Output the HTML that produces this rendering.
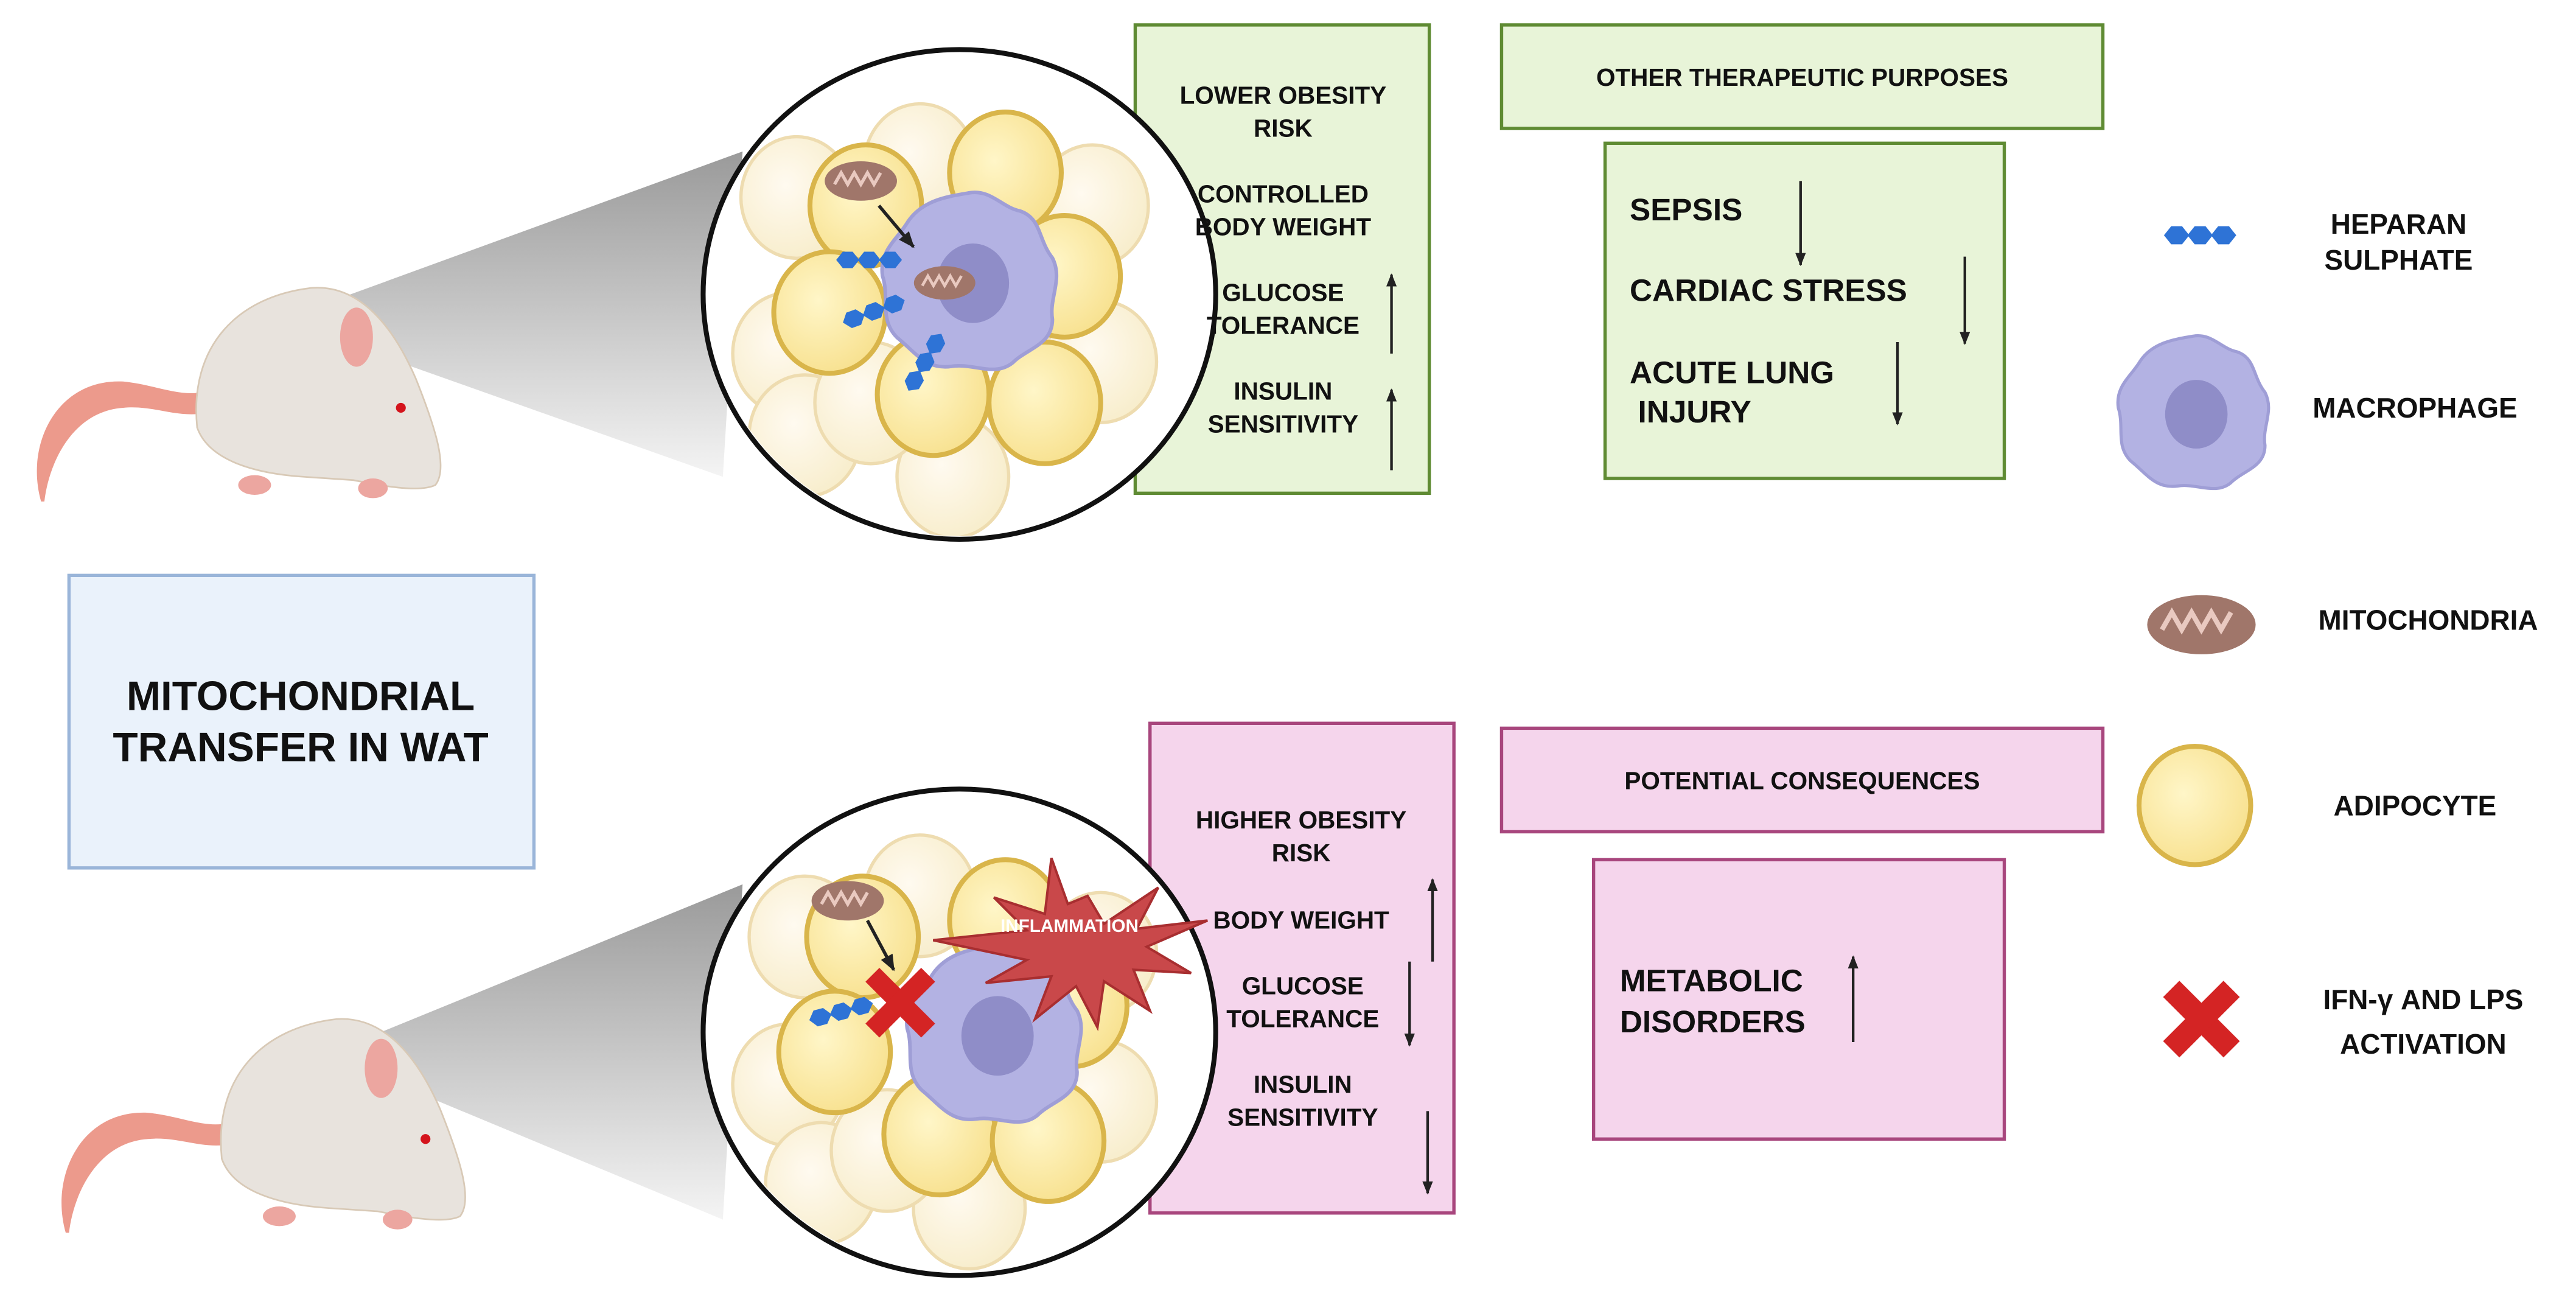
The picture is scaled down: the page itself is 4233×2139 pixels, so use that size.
<!DOCTYPE html>
<html><head><meta charset="utf-8"><style>
html,body{margin:0;padding:0;background:#fff}
svg{display:block}
text{font-family:"Liberation Sans",sans-serif;font-weight:bold;fill:#111}
</style></head><body>
<svg width="4233" height="2139" viewBox="0 0 1568 792" xmlns="http://www.w3.org/2000/svg">
<defs>
<linearGradient id="cone" x1="0" y1="0" x2="0" y2="1">
<stop offset="0" stop-color="#9a9a9a"/><stop offset="1" stop-color="#f4f4f4"/></linearGradient>
<radialGradient id="adi" cx="0.4" cy="0.4" r="0.7"><stop offset="0" stop-color="#fff6c8"/><stop offset="1" stop-color="#f7df8a"/></radialGradient>
<radialGradient id="adiL" cx="0.4" cy="0.4" r="0.7"><stop offset="0" stop-color="#fffaf0"/><stop offset="1" stop-color="#f7ecc8"/></radialGradient>
<clipPath id="c1"><ellipse cx="584" cy="179" rx="154" ry="147"/></clipPath>
<clipPath id="c2"><ellipse cx="584" cy="628" rx="154" ry="146"/></clipPath>
<g id="mouse">
<path d="M10,135 C0,100 20,60 60,62 C80,64 95,72 110,68 L115,80 C95,86 80,76 60,78 C30,80 15,110 12,135 Z" fill="#ec9a8c"/>
<path d="M105,90 C100,40 130,10 175,5 C205,3 225,30 238,60 C250,90 258,115 250,125 C240,130 215,125 200,122 L170,120 C140,118 112,110 105,90 Z" fill="#e8e3dd" stroke="#d8c9b6" stroke-width="1"/>
<ellipse cx="202" cy="35" rx="10" ry="18" fill="#eca6a0"/>
<circle cx="229" cy="78" r="3" fill="#d4141c"/>
<ellipse cx="140" cy="125" rx="10" ry="6" fill="#eca6a0"/>
<ellipse cx="212" cy="127" rx="9" ry="6" fill="#eca6a0"/>
</g>
<g id="adip"><ellipse rx="34" ry="37" fill="url(#adi)" stroke="#d9b54a" stroke-width="3"/></g>
<g id="adipL"><ellipse rx="34" ry="37" fill="url(#adiL)" stroke="#eedcb0" stroke-width="2"/></g>
<g id="mito"><ellipse rx="22" ry="12" fill="#a0766a"/><path d="M-16,2 l4,-7 l4,7 l4,-7 l4,7 l4,-7 l4,7 l4,-7" stroke="#e9c9c0" stroke-width="2" fill="none"/></g>
<g id="hep"><polygon points="-18,0 -14,-5 -8,-5 -4,0 -8,5 -14,5" fill="#2e73d6"/><polygon points="-5,0 -1,-5 5,-5 9,0 5,5 -1,5" fill="#2e73d6"/><polygon points="8,0 12,-5 18,-5 22,0 18,5 12,5" fill="#2e73d6"/></g>
<g id="macro"><path d="M0,-48 C12,-50 18,-40 28,-38 C40,-34 38,-22 46,-12 C52,0 44,10 46,22 C46,36 32,38 24,46 C14,54 2,46 -10,48 C-24,50 -30,40 -40,32 C-50,22 -44,10 -48,-2 C-50,-16 -40,-22 -34,-32 C-26,-44 -12,-46 0,-48 Z" fill="#b3b2e3" stroke="#9f9ed6" stroke-width="2"/><ellipse cx="2" cy="2" rx="20" ry="22" fill="#8f8dc8"/></g>
<marker id="ah" viewBox="0 0 10 10" refX="9" refY="5" markerWidth="5" markerHeight="5" orient="auto-start-reverse"><path d="M0,1 L10,5 L0,9 Z" fill="#222"/></marker>
</defs>

<!-- green boxes -->
<g fill="#e8f4d8" stroke="#5f8b33" stroke-width="2">
<rect x="691" y="15" width="179" height="285"/>
<rect x="914" y="15" width="366" height="63"/>
<rect x="977" y="87" width="243" height="204"/>
</g>
<!-- pink boxes -->
<g fill="#f5d5ec" stroke="#a8467d" stroke-width="2">
<rect x="700" y="440" width="185" height="298"/>
<rect x="914" y="443" width="366" height="63"/>
<rect x="970" y="523" width="250" height="170"/>
</g>

<!-- cones -->
<polygon points="205,182 452,92 440,290 248,222" fill="url(#cone)"/>
<polygon points="222,632 452,538 440,742 262,668" fill="url(#cone)"/>

<!-- mice -->
<use href="#mouse" transform="translate(15,170)"/>
<use href="#mouse" transform="translate(30,615)"/>

<!-- top circle -->
<ellipse cx="584" cy="179" rx="156" ry="149" fill="#fff" stroke="#111" stroke-width="3"/>
<g clip-path="url(#c1)">
<use href="#adipL" x="485" y="120"/><use href="#adipL" x="560" y="100"/><use href="#adipL" x="665" y="125"/><use href="#adipL" x="480" y="215"/><use href="#adipL" x="670" y="220"/><use href="#adipL" x="490" y="265"/><use href="#adipL" x="580" y="290"/><use href="#adipL" x="530" y="245"/>
<use href="#adip" x="527" y="125"/><use href="#adip" x="612" y="105"/><use href="#adip" x="505" y="190"/><use href="#adip" x="648" y="168"/><use href="#adip" x="568" y="240"/><use href="#adip" x="636" y="245"/>
<use href="#macro" transform="translate(590,170) scale(1.1)"/>
<use href="#mito" x="524" y="110"/><use href="#mito" transform="translate(575,172) scale(0.85)"/>
<use href="#hep" transform="translate(527,158)"/><use href="#hep" transform="translate(530,190) rotate(-20)"/><use href="#hep" transform="translate(562,222) rotate(-60)"/>
<line x1="535" y1="125" x2="556" y2="150" stroke="#222" stroke-width="2" marker-end="url(#ah)"/>
</g>

<!-- bottom circle -->
<ellipse cx="584" cy="628" rx="156" ry="148" fill="#fff" stroke="#111" stroke-width="3"/>
<g clip-path="url(#c2)">
<use href="#adipL" x="490" y="570"/><use href="#adipL" x="560" y="545"/><use href="#adipL" x="670" y="580"/><use href="#adipL" x="480" y="660"/><use href="#adipL" x="670" y="670"/><use href="#adipL" x="500" y="720"/><use href="#adipL" x="590" y="735"/><use href="#adipL" x="540" y="700"/>
<use href="#adip" x="525" y="570"/><use href="#adip" x="612" y="560"/><use href="#adip" x="508" y="640"/><use href="#adip" x="652" y="612"/><use href="#adip" x="572" y="690"/><use href="#adip" x="638" y="694"/>
<use href="#macro" transform="translate(605,628) scale(1.1)"/>
<use href="#mito" x="516" y="548"/>
<use href="#hep" transform="translate(510,616) rotate(-15)"/>
<line x1="528" y1="560" x2="544" y2="590" stroke="#222" stroke-width="2" marker-end="url(#ah)"/>
<g transform="translate(548,610)"><rect x="-24" y="-6" width="48" height="12" fill="#d42424" transform="rotate(45)"/><rect x="-24" y="-6" width="48" height="12" fill="#d42424" transform="rotate(-45)"/></g>
</g>
<polygon points="662,545 672,562 705,540 692,565 735,560 698,576 725,592 690,590 700,615 672,597 668,625 655,600 630,620 640,594 600,598 625,584 568,572 625,566 605,546 636,556 640,522 650,550" fill="#c9484a" stroke="#a82e30" stroke-width="1.5"/>
<text x="651" y="567" font-size="11" text-anchor="middle" style="fill:#fff">INFLAMMATION</text>

<!-- blue box -->
<rect x="42" y="350" width="283" height="178" fill="#eaf2fb" stroke="#9ab5d9" stroke-width="2"/>
<text x="183" y="432" font-size="25" text-anchor="middle">MITOCHONDRIAL</text>
<text x="183" y="463" font-size="25" text-anchor="middle">TRANSFER IN WAT</text>

<g font-size="15" text-anchor="middle">
<text x="781" y="63">LOWER OBESITY</text><text x="781" y="83">RISK</text>
<text x="781" y="123">CONTROLLED</text><text x="781" y="143">BODY WEIGHT</text>
<text x="781" y="183">GLUCOSE</text><text x="781" y="203">TOLERANCE</text>
<text x="781" y="243">INSULIN</text><text x="781" y="263">SENSITIVITY</text>
<text x="1097" y="52">OTHER THERAPEUTIC PURPOSES</text>
</g>
<g font-size="19">
<text x="992" y="134">SEPSIS</text>
<text x="992" y="183">CARDIAC STRESS</text>
<text x="992" y="233">ACUTE LUNG</text>
<text x="997" y="257">INJURY</text>
</g>
<g stroke="#222" stroke-width="1.6" marker-end="url(#ah)">
<line x1="847" y1="215" x2="847" y2="167"/>
<line x1="847" y1="286" x2="847" y2="237"/>
<line x1="1096" y1="110" x2="1096" y2="161"/>
<line x1="1196" y1="156" x2="1196" y2="209"/>
<line x1="1155" y1="208" x2="1155" y2="258"/>
</g>

<g font-size="15" text-anchor="middle">
<text x="792" y="504">HIGHER OBESITY</text><text x="792" y="524">RISK</text>
<text x="792" y="565">BODY WEIGHT</text>
<text x="793" y="605">GLUCOSE</text><text x="793" y="625">TOLERANCE</text>
<text x="793" y="665">INSULIN</text><text x="793" y="685">SENSITIVITY</text>
<text x="1097" y="480">POTENTIAL CONSEQUENCES</text>
</g>
<g font-size="19">
<text x="986" y="603">METABOLIC</text>
<text x="986" y="628">DISORDERS</text>
</g>
<g stroke="#222" stroke-width="1.6" marker-end="url(#ah)">
<line x1="872" y1="585" x2="872" y2="535"/>
<line x1="858" y1="585" x2="858" y2="636"/>
<line x1="869" y1="676" x2="869" y2="726"/>
<line x1="1128" y1="634" x2="1128" y2="582"/>
</g>

<!-- legend -->
<use href="#hep" transform="translate(1337,143) scale(1.1)"/>
<use href="#macro" transform="translate(1335,250) scale(0.95)"/>
<use href="#mito" transform="translate(1340,380) scale(1.5)"/>
<g transform="translate(1336,490)"><ellipse rx="34" ry="36" fill="url(#adi)" stroke="#d9b54a" stroke-width="3"/></g>
<g transform="translate(1340,620)"><rect x="-26" y="-7" width="52" height="14" fill="#d42424" transform="rotate(45)"/><rect x="-26" y="-7" width="52" height="14" fill="#d42424" transform="rotate(-45)"/></g>
<g font-size="17" text-anchor="middle">
<text x="1460" y="142">HEPARAN</text><text x="1460" y="164">SULPHATE</text>
<text x="1470" y="254">MACROPHAGE</text>
<text x="1478" y="383">MITOCHONDRIA</text>
<text x="1470" y="496">ADIPOCYTE</text>
<text x="1475" y="614">IFN-γ AND LPS</text><text x="1475" y="641">ACTIVATION</text>
</g>
</svg>
</body></html>
